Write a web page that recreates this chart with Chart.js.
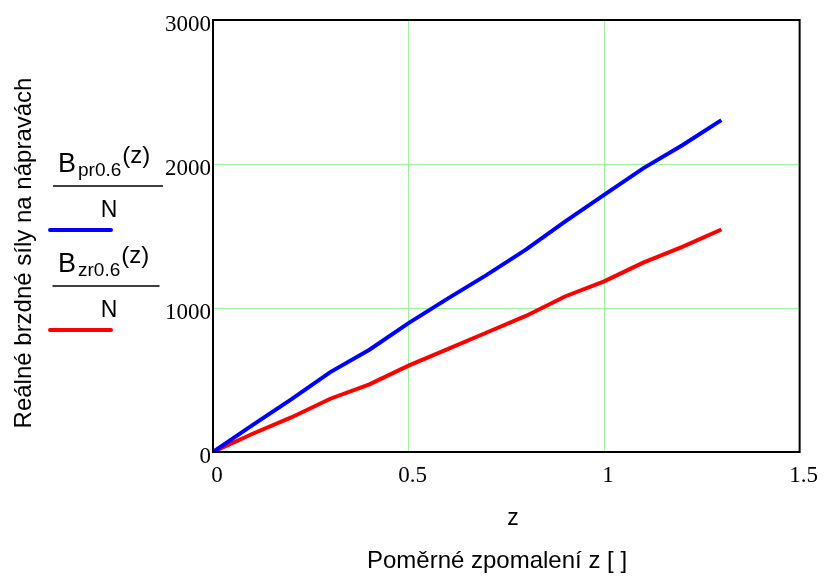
<!DOCTYPE html>
<html>
<head>
<meta charset="utf-8">
<script src="https://cdn.jsdelivr.net/npm/chart.js@4/dist/chart.umd.min.js"></script>
<style>
  html, body { margin: 0; padding: 0; background: #fff; }
  #wrap { width: 824px; height: 587px; }
</style>
</head>
<body>
<div id="wrap"><canvas id="brakeChart"></canvas></div>
<script>
// Data
const zValues = [0, 0.1, 0.2, 0.3, 0.4, 0.5, 0.6, 0.7, 0.8, 0.9, 1.0, 1.1, 1.2, 1.3];
const frontForce = [0, 185, 365, 555, 710, 895, 1065, 1230, 1405, 1600, 1785, 1970, 2130, 2305];
const rearForce = [0, 125, 240, 370, 470, 600, 715, 830, 945, 1080, 1185, 1315, 1425, 1545];
const xTicks = [0, 0.5, 1, 1.5];
const yTicks = [0, 1000, 2000, 3000];

const toPoints = (ys) => zValues.map((z, i) => ({ x: z, y: ys[i] }));
const sans = "'Liberation Sans', Arial, sans-serif";
const serif = "'Liberation Serif', 'Times New Roman', serif";

// frame, axis titles and the fraction-style legend
const decorations = {
  id: "decorations",
  afterDraw(chart) {
    const { ctx, chartArea: a } = chart;
    ctx.save();
    ctx.strokeStyle = "#000";
    ctx.lineWidth = 2;
    ctx.strokeRect(a.left, a.top, a.right - a.left, a.bottom - a.top);

    ctx.fillStyle = "#000";
    ctx.textAlign = "center";
    ctx.textBaseline = "alphabetic";
    ctx.font = "23px " + sans;
    ctx.fillText("z", 513, 525);
    ctx.font = "24px " + sans;
    ctx.fillText("Poměrné zpomalení z [ ]", 497, 568);

    ctx.save();
    ctx.translate(31, 253);
    ctx.rotate(-Math.PI / 2);
    ctx.font = "24px " + sans;
    ctx.fillText("Reálné brzdné síly na nápravách", 0, 0);
    ctx.restore();

    const entry = (dy, sub, color, lineEnd) => {
      ctx.textAlign = "left";
      ctx.font = "27px " + sans;
      ctx.fillText("B", 58, 172 + dy);
      ctx.font = "19px " + sans;
      ctx.fillText(sub, 78, 176 + dy);
      const w = ctx.measureText(sub).width;
      ctx.font = "24px " + sans;
      ctx.fillText("(z)", 79 + w, 163 + dy);
      ctx.strokeStyle = "#000";
      ctx.lineWidth = 1.5;
      ctx.beginPath();
      ctx.moveTo(53, 186 + dy);
      ctx.lineTo(lineEnd, 186 + dy);
      ctx.stroke();
      ctx.font = "23px " + sans;
      ctx.textAlign = "center";
      ctx.fillText("N", 109, 217 + dy);
      ctx.strokeStyle = color;
      ctx.lineWidth = 4;
      ctx.lineCap = "round";
      ctx.beginPath();
      ctx.moveTo(50, 230 + dy);
      ctx.lineTo(111, 230 + dy);
      ctx.stroke();
    };
    entry(0, "pr0.6", "#0000ff", 163);
    entry(100, "zr0.6", "#ff0000", 159);
    ctx.restore();
  }
};

new Chart(document.getElementById("brakeChart"), {
  type: "line",
  data: {
    datasets: [
      {
        label: "Bpr0.6(z)/N",
        data: toPoints(frontForce),
        borderColor: "#0000ff",
        borderWidth: 4,
        pointRadius: 0,
        tension: 0
      },
      {
        label: "Bzr0.6(z)/N",
        data: toPoints(rearForce),
        borderColor: "#ff0000",
        borderWidth: 4,
        pointRadius: 0,
        tension: 0
      }
    ]
  },
  options: {
    responsive: true,
    maintainAspectRatio: false,
    animation: false,
    layout: { padding: { left: 0, right: 24, top: 20, bottom: 0 } },
    scales: {
      x: {
        type: "linear",
        min: 0,
        max: 1.5,
        afterFit: (scale) => { scale.height = 135; },
        afterBuildTicks: (scale) => { scale.ticks = xTicks.map((v) => ({ value: v })); },
        ticks: {
          color: "#000",
          padding: 10,
          labelOffset: 4,
          callback: (v) => String(v),
          font: { family: serif, size: 23 }
        },
        grid: { color: "#a0f0a0", lineWidth: 1, drawTicks: false },
        border: { color: "#000", width: 2 }
      },
      y: {
        min: 0,
        max: 3000,
        afterFit: (scale) => { scale.width = 213; },
        afterBuildTicks: (scale) => { scale.ticks = yTicks.map((v) => ({ value: v })); },
        ticks: {
          color: "#000",
          padding: 2,
          labelOffset: 5,
          callback: (v) => String(v),
          font: { family: serif, size: 23 }
        },
        grid: { color: "#a0f0a0", lineWidth: 1, drawTicks: false },
        border: { color: "#000", width: 2 }
      }
    },
    plugins: {
      legend: { display: false },
      tooltip: { enabled: false }
    }
  },
  plugins: [decorations]
});
</script>
</body>
</html>
